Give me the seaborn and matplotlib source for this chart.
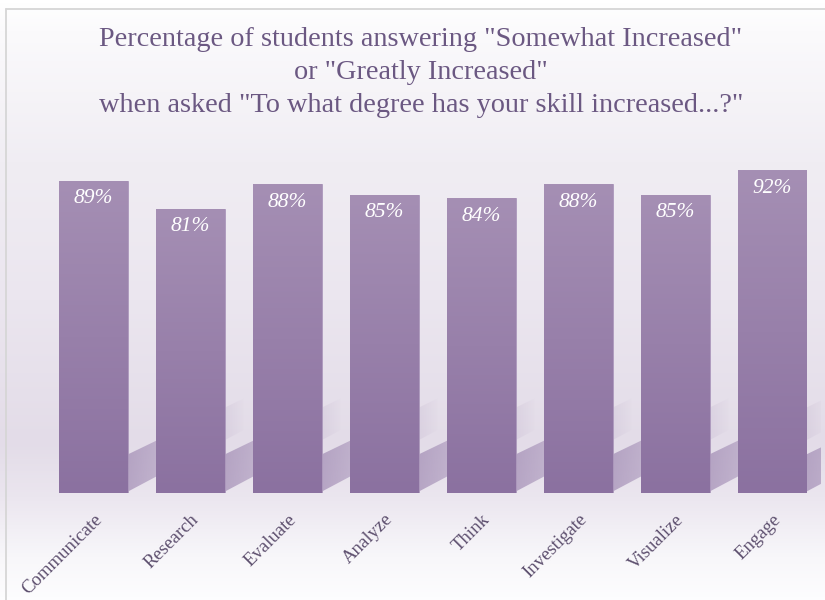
import numpy as np
import matplotlib
matplotlib.use("Agg")
import matplotlib.pyplot as plt
import seaborn as sns
import pandas as pd
from matplotlib.colors import LinearSegmentedColormap, to_rgb
from matplotlib.patches import Polygon
from matplotlib.lines import Line2D

# ---- data ----
skills = ["Communicate", "Research", "Evaluate", "Analyze", "Think",
          "Investigate", "Visualize", "Engage"]
percent = [89, 81, 88, 85, 84, 88, 85, 92]
value_labels = [f"{v}%" for v in percent]
title_lines = ['Percentage of students answering "Somewhat Increased"',
               'or "Greatly Increased"',
               'when asked "To what degree has your skill increased...?"']

df = pd.DataFrame({"skill": skills, "percent": percent})

sns.set_theme(style="white")
plt.rcParams['font.family'] = ['Liberation Serif', 'DejaVu Serif']

W, H = 825, 600
fig = plt.figure(figsize=(W / 100, H / 100), dpi=100)

# ---- background gradient ----
bg = fig.add_axes([0, 0, 1, 1], zorder=-10)
stops = [(0.0, '#ffffff'), (0.05, '#fbfafc'), (0.27, '#f0edf3'),
         (0.5, '#ebe6ef'), (0.74, '#e3dce8'), (0.83, '#ebe6ef'),
         (0.93, '#f8f7fa'), (1.0, '#fdfdfe')]
bg_cmap = LinearSegmentedColormap.from_list('bg', stops)
bg.imshow(np.linspace(0, 1, 600).reshape(-1, 1), aspect='auto', cmap=bg_cmap,
          extent=[0, 1, 0, 1], origin='upper')
bg.set_xlim(0, 1)
bg.set_ylim(0, 1)
bg.axis('off')

# border
fig.add_artist(Line2D([6 / W, 6 / W], [0, 1 - 9 / H], color='#d6d6d6', lw=1.3,
                      transform=fig.transFigure))
fig.add_artist(Line2D([6 / W, 1], [1 - 9 / H, 1 - 9 / H], color='#d6d6d6', lw=1.3,
                      transform=fig.transFigure))

# ---- main axes ----
ax = fig.add_axes([45 / W, 1 - 493 / H, 775.5 / W, 351 / H])
ax.patch.set_alpha(0)
sns.barplot(data=df, x="skill", y="percent", color='#9a83ab', saturation=1,
            width=0.71, ax=ax, zorder=3, edgecolor='#ad99bd', linewidth=0.6)

bar_cmap = LinearSegmentedColormap.from_list('bar', ['#8b71a0', '#a58fb4'])
shadow_rgb = to_rgb('#a08ab3')
n = 200
shadow_img = np.zeros((1, n, 4))
shadow_img[..., :3] = shadow_rgb
shadow_img[0, :, 3] = 0.7 * np.linspace(1.0, 0.0, n) ** 0.9

for p in ax.patches:
    x0, w, h = p.get_x(), p.get_width(), p.get_height()
    # gradient fill
    im = ax.imshow(np.linspace(0, 1, 256).reshape(-1, 1), extent=[x0, x0 + w, 0, h],
                   origin='lower', aspect='auto', cmap=bar_cmap, zorder=3.5)
    im.set_clip_path(p)
    # floor shadow
    xr = x0 + w
    sh = Polygon([(xr, 0.4), (xr, 11), (xr + 1.2, 27), (xr + 1.2, 18)],
                 closed=True, facecolor='none', edgecolor='none')
    ax.add_patch(sh)
    sim = ax.imshow(shadow_img, extent=[xr, xr + 1.2, 0, 30], origin='lower',
                    aspect='auto', zorder=2, interpolation='bilinear')
    sim.set_clip_path(sh)

for i, (v, lab) in enumerate(zip(percent, value_labels)):
    ax.text(i, v - 5.2, lab, ha='center', va='center', color='white',
            style='italic', fontsize=15.5, zorder=5)

ax.set_xlim(-0.5, 7.5)
ax.set_ylim(0, 100)
ax.set_xlabel("")
ax.set_ylabel("")
ax.set_yticks([])
ax.set_xticks(range(len(skills)))
ax.set_xticklabels(skills, rotation=45, ha='right', rotation_mode='anchor',
                   fontsize=13.5, color='#5d4f6e')
ax.tick_params(axis='x', length=0, pad=13)
sns.despine(ax=ax, left=True, bottom=True)

for line, yb in zip(title_lines, [46, 79, 112]):
    fig.text(0.51, 1 - yb / H, line, ha='center', va='baseline',
             fontsize=20.3, color='#6b5882')

fig.savefig("out.png", dpi=100)
